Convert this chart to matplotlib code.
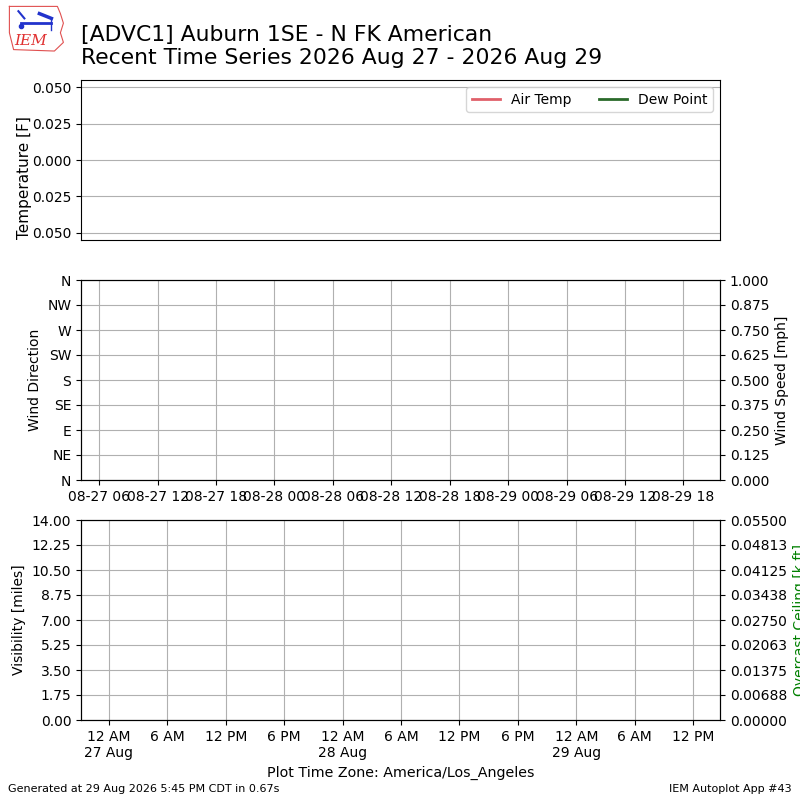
import datetime
from zoneinfo import ZoneInfo

import numpy as np
import matplotlib
matplotlib.use("Agg")
import matplotlib.pyplot as plt
import matplotlib.dates as mdates
from matplotlib.ticker import FixedLocator, FuncFormatter

UTC = datetime.timezone.utc
LOCAL = ZoneInfo("America/Los_Angeles")

# no observations in the window -> empty series
valid = []
tmpf = []
dwpf = []
drct = []
sknt = []
vsby = []
ceiling = []

start = datetime.datetime(2026, 8, 27, 4, 8, tzinfo=UTC)
end = datetime.datetime(2026, 8, 29, 21, 45, tzinfo=UTC)

title = "[ADVC1] Auburn 1SE - N FK American\nRecent Time Series 2026 Aug 27 - 2026 Aug 29"
dir_labels = ["N", "NE", "E", "SE", "S", "SW", "W", "NW", "N"]
dir_ticks = [0, 45, 90, 135, 180, 225, 270, 315, 360]

fig = plt.figure(figsize=(8, 8), dpi=100)

# --- temperature panel
ax1 = fig.add_axes([0.10125, 0.7, 0.79875, 0.2])
ax1.plot(valid, tmpf, color="#e0606a", lw=2, label="Air Temp")
ax1.plot(valid, dwpf, color="#2a6a2a", lw=2, label="Dew Point")
ax1.set_xlim(start, end)
ax1.set_ylim(-0.055, 0.055)
ax1.yaxis.set_major_locator(FixedLocator(np.linspace(-0.05, 0.05, 5)))
ax1.yaxis.set_major_formatter(FuncFormatter(lambda v, p: "%.3f" % abs(v)))
ax1.set_xticks([])
ax1.grid(True, axis="y")
ax1.set_ylabel("Temperature [F]", fontsize=11)
ax1.yaxis.set_label_coords(-0.077, 0.39)
ax1.legend(loc="upper right", ncol=2)

# --- wind panel
ax2 = fig.add_axes([0.10125, 0.4, 0.79875, 0.25])
ax2.scatter(valid, drct, color="b")
ax2.set_xlim(start, end)
ax2.set_ylim(0, 360)
ax2.set_yticks(dir_ticks)
ax2.set_yticklabels(dir_labels)
ax2.set_ylabel("Wind Direction")
ax2.xaxis.set_major_locator(mdates.HourLocator(byhour=[0, 6, 12, 18], tz=UTC))
ax2.xaxis.set_major_formatter(mdates.DateFormatter("%m-%d %H", tz=UTC))
ax2.grid(True)
ax2b = ax2.twinx()
ax2b.plot(valid, sknt, color="g")
ax2b.set_ylim(0, 1)
ax2b.set_yticks(np.linspace(0, 1, 9))
ax2b.yaxis.set_major_formatter(FuncFormatter(lambda v, p: "%.3f" % v))
ax2b.set_ylabel("Wind Speed [mph]")

# --- visibility / ceiling panel
ax3 = fig.add_axes([0.10125, 0.1, 0.79875, 0.25])
ax3.plot(valid, vsby, color="k")
ax3.set_xlim(start, end)
ax3.set_ylim(0, 14)
ax3.set_yticks(np.linspace(0, 14, 9))
ax3.yaxis.set_major_formatter(FuncFormatter(lambda v, p: "%.2f" % v))
ax3.set_ylabel("Visibility [miles]")


def local_fmt(x, pos=None):
    dt = mdates.num2date(x, tz=LOCAL)
    hr = dt.hour % 12
    hr = 12 if hr == 0 else hr
    s = "%d %s" % (hr, "AM" if dt.hour < 12 else "PM")
    if dt.hour == 0:
        s += "\n%d %s" % (dt.day, dt.strftime("%b"))
    return s


ax3.xaxis.set_major_locator(mdates.HourLocator(byhour=[0, 6, 12, 18], tz=LOCAL))
ax3.xaxis.set_major_formatter(FuncFormatter(local_fmt))
ax3.grid(True)
ax3.set_xlabel("Plot Time Zone: America/Los_Angeles", fontsize=10.3)
ax3b = ax3.twinx()
ax3b.plot(valid, ceiling, color="g")
ax3b.set_ylim(0, 0.055)
ax3b.set_yticks(np.linspace(0, 0.055, 9))
ax3b.yaxis.set_major_formatter(FuncFormatter(lambda v, p: "%.5f" % v))
ax3b.set_ylabel("Overcast Ceiling [k ft]", color="g")

# --- header
fig.text(0.10125, 0.915, title, fontsize=15.75, va="bottom", ha="left")

# rough IEM logo
logo = fig.add_axes([0.008, 0.935, 0.075, 0.06])
logo.set_xlim(0, 1)
logo.set_ylim(0, 1)
logo.axis("off")
logo.plot([0.05, 0.85, 0.9, 0.95, 0.9, 0.95, 0.8, 0.12, 0.05, 0.05],
          [0.95, 0.95, 0.8, 0.6, 0.4, 0.2, 0.02, 0.05, 0.4, 0.95],
          color="#e05050", lw=0.8)
logo.plot([0.25, 0.75], [0.6, 0.6], color="#2233cc", lw=2)
logo.plot([0.2, 0.3], [0.85, 0.7], color="#2233cc", lw=1.5)
logo.plot([0.55, 0.75], [0.8, 0.7], color="#2233cc", lw=2.5)
logo.plot([0.75, 0.75], [0.45, 0.7], color="#2233cc", lw=1)
logo.plot([0.25], [0.55], "o", color="#2233cc", ms=3)
logo.text(0.4, 0.08, "IEM", color="#e03030", fontsize=11, style="italic",
          family="DejaVu Serif", ha="center", va="bottom")

# --- footer
fig.text(0.01, 0.007, "Generated at 29 Aug 2026 5:45 PM CDT in 0.67s",
         fontsize=8, va="bottom")
fig.text(0.99, 0.007, "IEM Autoplot App #43", fontsize=8, ha="right",
         va="bottom")

fig.savefig("out.png")
